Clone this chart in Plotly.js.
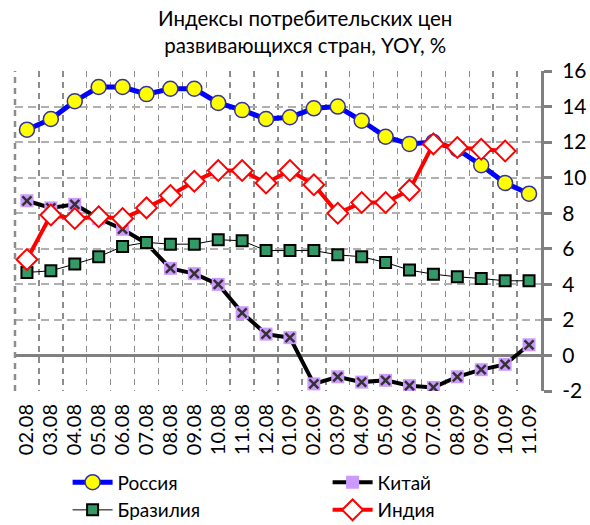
<!DOCTYPE html>
<html><head><meta charset="utf-8">
<script src="https://cdn.plot.ly/plotly-3.0.1.min.js"></script>
<style>html,body{margin:0;padding:0;background:#fff}#chart{width:590px;height:525px}</style>
</head><body><div id="chart"></div>
<script>
const months = ["02.08","03.08","04.08","05.08","06.08","07.08","08.08","09.08","10.08","11.08","12.08","01.09","02.09","03.09","04.09","05.09","06.09","07.09","08.09","09.09","10.09","11.09"];
const russia = [12.7,13.3,14.3,15.1,15.1,14.7,15.0,15.0,14.2,13.8,13.3,13.4,13.9,14.0,13.2,12.3,11.9,12.0,11.6,10.7,9.7,9.1];
const china  = [8.7,8.3,8.5,7.7,7.1,6.3,4.9,4.6,4.0,2.4,1.2,1.0,-1.6,-1.2,-1.5,-1.4,-1.7,-1.8,-1.2,-0.8,-0.5,0.6];
const brazil = [4.67,4.76,5.14,5.55,6.13,6.36,6.26,6.26,6.51,6.45,5.9,5.9,5.9,5.66,5.55,5.23,4.8,4.57,4.42,4.33,4.2,4.2];
const india  = [5.4,7.9,7.7,7.8,7.7,8.3,9.0,9.8,10.4,10.4,9.7,10.4,9.6,8.0,8.6,8.6,9.3,11.9,11.7,11.6,11.5,null];
const yTicks = [-2,0,2,4,6,8,10,12,14,16];
const names = {russia:"Россия", china:"Китай", brazil:"Бразилия", india:"Индия"};
const titleText = "Индексы потребительских цен<br>развивающихся стран, YOY, %";

const FONT = "Lato, 'Open Sans', sans-serif";
const traces = [
  {x: months, y: china, name: names.china, type: "scatter", mode: "lines+markers", legendrank: 2,
   line: {color: "#000000", width: 4},
   marker: {symbol: "square", size: 13, color: "#CC99FF", line: {width: 0}}},
  {x: months, y: china, name: names.china, type: "scatter", mode: "markers", showlegend: false, hoverinfo: "skip",
   marker: {symbol: "x-thin-open", size: 9, color: "#333333", line: {width: 2.5, color: "#333333"}}},
  {x: months, y: brazil, name: names.brazil, type: "scatter", mode: "lines+markers", legendrank: 3,
   line: {color: "#000000", width: 1},
   marker: {symbol: "square", size: 11, color: "#339966", line: {width: 2, color: "#000000"}}},
  {x: months, y: russia, name: names.russia, type: "scatter", mode: "lines+markers", legendrank: 1,
   line: {color: "#0000FF", width: 5},
   marker: {symbol: "circle", size: 15, color: "#FFFF00", line: {width: 1.5, color: "#333399"}}},
  {x: months, y: india, name: names.india, type: "scatter", mode: "lines+markers", legendrank: 4,
   line: {color: "#FF0000", width: 4},
   marker: {symbol: "diamond", size: 16, color: "#FFFFFF", line: {width: 2, color: "#FF0000"}}}
];

const layout = {
  width: 590, height: 525,
  paper_bgcolor: "#fff", plot_bgcolor: "#fff",
  font: {family: FONT, color: "#000"},
  margin: {l: 15, r: 49, t: 71, b: 134, autoexpand: false},
  title: {text: ""},
  annotations: [
    {text: titleText, xref: "paper", yref: "paper", x: 0.551, y: 1.125, xanchor: "center", yanchor: "middle",
     showarrow: false, font: {family: FONT, size: 20.5, color: "#000"}, align: "center"}
  ],
  showlegend: true,
  legend: {orientation: "h", x: 0.1, xanchor: "left", y: -0.226, yanchor: "top",
           entrywidth: 205, entrywidthmode: "pixels", font: {family: FONT, size: 19, color: "#000"},
           traceorder: "normal", itemwidth: 40, tracegroupgap: 0},
  xaxis: {type: "category", range: [-0.5, 21.5], tickson: "boundaries", automargin: false,
          tickmode: "array", tickvals: months, ticktext: months, ticklabelstandoff: 8,
          showgrid: true, gridcolor: "#8c8c8c", gridwidth: 1.5, griddash: "6px,5px",
          ticks: "", tickangle: -90, tickfont: {family: FONT, size: 20, color: "#000"},
          showline: false, zeroline: false, fixedrange: true},
  yaxis: {side: "right", range: [-2, 16], automargin: false,
          tickmode: "array", tickvals: yTicks, ticktext: yTicks.map(v => String(v)), ticklabelstandoff: 6,
          showgrid: true, gridcolor: "#b0b0b0", gridwidth: 2, griddash: "8px,5px",
          zeroline: true, zerolinecolor: "#808080", zerolinewidth: 3,
          showline: true, linecolor: "#808080", linewidth: 3,
          ticks: "outside", ticklen: 8, tickwidth: 3, tickcolor: "#808080",
          tickfont: {family: FONT, size: 21, color: "#000"}, fixedrange: true},
  shapes: [
    {type: "line", xref: "paper", yref: "paper", x0: 0, x1: 0, y0: 0, y1: 1,
     line: {color: "#8c8c8c", width: 2.5, dash: "6px,5px"}}
  ]
};
Plotly.newPlot("chart", traces, layout, {displayModeBar: false, staticPlot: true});
</script></body></html>
